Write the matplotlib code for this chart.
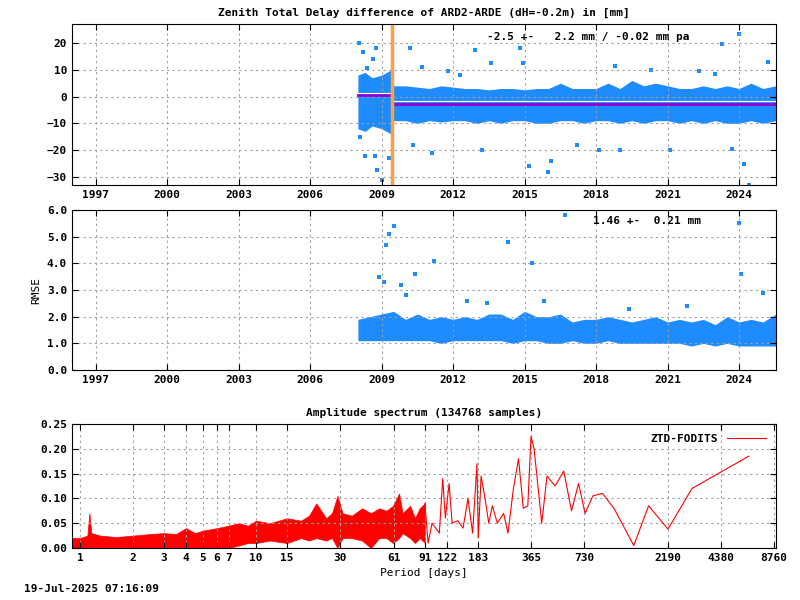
import numpy as np
import matplotlib.pyplot as plt

plt.rcParams['font.family'] = 'DejaVu Sans Mono'
plt.rcParams['font.size'] = 8
plt.rcParams['font.weight'] = 'bold'

BLUE = '#1E8CFF'

# --- ZTD difference cloud envelope (decimal year, upper, lower) ---
diff_t = [2008.0, 2008.3, 2008.6, 2009.0, 2009.4, 2009.5, 2010.0, 2010.5, 2011.0, 2011.5,
          2012.0, 2012.5, 2013.0, 2013.5, 2014.0, 2014.5, 2015.0, 2015.5, 2016.0, 2016.5,
          2017.0, 2017.5, 2018.0, 2018.5, 2019.0, 2019.5, 2020.0, 2020.5, 2021.0, 2021.5,
          2022.0, 2022.5, 2023.0, 2023.5, 2024.0, 2024.5, 2025.0, 2025.55]
diff_hi = [8, 9, 7, 8, 10, 4, 4, 3.5, 3, 4, 3.5, 3, 3, 2.5, 3, 3, 2.5, 3, 3, 5,
           3, 3, 3, 5, 3, 6, 4, 5, 4, 3, 3, 4, 3, 4, 3, 5, 3, 4]
diff_lo = [-12, -13, -11, -12, -14, -9, -9, -10, -9, -9.5, -9, -9, -10, -9, -10, -9, -9, -10, -10, -9,
           -9, -10, -9, -9, -10, -9, -10, -9, -9, -10, -9, -10, -9, -10, -10, -9, -10, -9]
# outliers (year, mm)
out_t = [2008.05, 2008.2, 2008.4, 2008.65, 2008.75, 2009.3, 2008.1, 2008.3, 2008.8, 2009.0,
         2008.7, 2010.2, 2010.7, 2011.8, 2012.9, 2013.6, 2014.8, 2014.95, 2016.0, 2016.1,
         2015.2, 2013.2, 2011.1, 2018.1, 2018.8, 2019.0, 2020.3, 2021.1, 2022.3, 2023.0,
         2023.3, 2024.0, 2024.2, 2024.4, 2025.2, 2023.7, 2012.3, 2017.2, 2010.3]
out_v = [20, 16.5, 10.5, 14, 18, -23, -15, -22, -27.5, -31, -22, 18, 11, 9.5, 17.5, 12.5, 18, 12.5, -28, -24,
         -26, -20, -21, -20, 11.5, -20, 10, -20, 9.5, 8.5, 19.5, 23.5, -25, -33, 13, -19.5, 8, -18, -18]
seg_t = [2008.0, 2009.45, 2009.45, 2025.55]
seg_mean = [0.5, 0.5, -2.7, -2.7]
break_year = 2009.45

# --- RMSE cloud envelope ---
rms_t = [2008.0, 2008.5, 2009.0, 2009.5, 2010.0, 2010.5, 2011.0, 2011.5, 2012.0, 2012.5,
         2013.0, 2013.5, 2014.0, 2014.5, 2015.0, 2015.5, 2016.0, 2016.5, 2017.0, 2017.5,
         2018.0, 2018.5, 2019.0, 2019.5, 2020.0, 2020.5, 2021.0, 2021.5, 2022.0, 2022.5,
         2023.0, 2023.5, 2024.0, 2024.5, 2025.0, 2025.55]
rms_hi = [1.9, 2.0, 2.1, 2.2, 1.9, 2.1, 1.9, 2.0, 1.9, 2.0, 1.9, 2.1, 2.1, 1.9, 2.2, 2.0, 2.0, 2.1, 1.8, 1.9,
          1.9, 2.0, 1.9, 1.8, 1.9, 2.0, 1.8, 1.9, 1.8, 1.9, 1.7, 2.0, 1.8, 1.9, 1.8, 2.1]
rms_lo = [1.1, 1.1, 1.1, 1.1, 1.1, 1.1, 1.1, 1.0, 1.1, 1.1, 1.1, 1.1, 1.1, 1.0, 1.1, 1.1, 1.0, 1.0, 1.1, 1.0,
          1.0, 1.1, 1.0, 1.0, 1.0, 1.0, 1.0, 1.0, 0.9, 1.0, 0.9, 1.0, 0.9, 0.9, 0.9, 0.9]
rout_t = [2009.2, 2009.3, 2009.5, 2009.8, 2010.4, 2011.2, 2014.3, 2015.3, 2016.7, 2024.0, 2024.1, 2025.0,
          2008.9, 2009.1, 2010.0, 2012.6, 2013.4, 2015.8, 2019.4, 2021.8]
rout_v = [4.7, 5.1, 5.4, 3.2, 3.6, 4.1, 4.8, 4.0, 5.8, 5.5, 3.6, 2.9,
          3.5, 3.3, 2.8, 2.6, 2.5, 2.6, 2.3, 2.4]

# --- Amplitude spectrum ---
noise_p = [0.9, 1.0, 1.1, 1.13, 1.16, 1.3, 1.6, 2, 2.5, 3, 3.5, 4, 4.5, 5, 6, 7, 8, 9, 10, 12, 15,
           18, 20, 22, 25, 27, 29, 31, 35, 40, 45, 50, 55, 60, 65, 68, 75, 80, 85, 91]
noise_hi = [0.02, 0.02, 0.025, 0.07, 0.03, 0.025, 0.022, 0.025, 0.028, 0.03, 0.028, 0.04, 0.03, 0.035,
            0.04, 0.045, 0.05, 0.045, 0.055, 0.05, 0.06, 0.055, 0.065, 0.09, 0.06, 0.07, 0.105, 0.07,
            0.065, 0.08, 0.07, 0.08, 0.075, 0.085, 0.11, 0.07, 0.085, 0.06, 0.08, 0.09]
noise_lo = [0, 0, 0, 0, 0, 0, 0, 0, 0, 0, 0, 0, 0, 0, 0, 0, 0.005, 0.01, 0.01, 0.015, 0.01, 0.02,
            0.015, 0.02, 0.015, 0.02, 0.0, 0.02, 0.02, 0.015, 0.0, 0.02, 0.02, 0.01, 0.02, 0.03, 0.02,
            0.01, 0.02, 0.01]
long_p = [91, 95, 100, 110, 115, 119, 125, 130, 140, 150, 160, 170, 180, 183, 190, 200, 210, 220, 235,
          255, 270, 290, 310, 330, 350, 365, 380, 420, 450, 500, 560, 620, 680, 740, 820, 930, 1080,
          1400, 1700, 2190, 3000, 6300]
long_a = [0.09, 0.01, 0.05, 0.03, 0.14, 0.06, 0.13, 0.05, 0.055, 0.04, 0.1, 0.03, 0.17, 0.02, 0.145,
          0.1, 0.05, 0.085, 0.05, 0.07, 0.03, 0.12, 0.18, 0.08, 0.085, 0.225, 0.2, 0.05, 0.145, 0.125,
          0.155, 0.075, 0.13, 0.07, 0.105, 0.11, 0.08, 0.005, 0.085, 0.038, 0.12, 0.185]
period_ticks = [1, 2, 3, 4, 5, 6, 7, 10, 15, 30, 61, 91, 122, 183, 365, 730, 2190, 4380, 8760]

year_ticks = list(range(1997, 2025, 3))
fig = plt.figure(figsize=(8, 6), dpi=100)

def style(ax):
    ax.grid(True, linestyle=(0, (2, 3)), color='#a0a0a0', linewidth=0.8)
    ax.tick_params(direction='in', length=4, top=True, right=True)

ax1 = fig.add_axes([0.09, 0.6917, 0.88, 0.268])
ax1.fill_between(diff_t, diff_lo, diff_hi, color=BLUE, linewidth=0)
ax1.scatter(out_t, out_v, s=6, marker='s', color=BLUE, linewidths=0)
ax1.plot(seg_t, seg_mean, color='#9400D3', linewidth=2)
ax1.plot(seg_t, [v + 0.9 for v in seg_mean], color='white', linewidth=0.8)
ax1.axvline(break_year, color='#FFA040', linewidth=2.5)
ax1.set_xlim(1996.0, 2025.55)
ax1.set_ylim(-33, 27)
ax1.set_yticks(range(-30, 21, 10))
ax1.set_xticks(year_ticks)
style(ax1)
ax1.set_title('Zenith Total Delay difference of ARD2-ARDE (dH=-0.2m) in [mm]', fontsize=8, fontweight='bold', pad=6)
ax1.text(0.59, 0.95, '-2.5 +-   2.2 mm / -0.02 mm pa', transform=ax1.transAxes, va='top')

ax2 = fig.add_axes([0.09, 0.3833, 0.88, 0.2667])
ax2.fill_between(rms_t, rms_lo, rms_hi, color=BLUE, linewidth=0)
ax2.scatter(rout_t, rout_v, s=6, marker='s', color=BLUE, linewidths=0)
ax2.set_xlim(1996.0, 2025.55)
ax2.set_ylim(0, 6)
ax2.set_yticks(np.arange(0, 6.1, 1.0))
ax2.set_yticklabels(['%.1f' % v for v in np.arange(0, 6.1, 1.0)])
ax2.set_xticks(year_ticks)
ax2.set_ylabel('RMSE')
style(ax2)
ax2.text(0.74, 0.96, '1.46 +-  0.21 mm', transform=ax2.transAxes, va='top')

ax3 = fig.add_axes([0.09, 0.0867, 0.88, 0.2067])
ax3.fill_between(noise_p, noise_lo, noise_hi, color='red', linewidth=0.5)
ax3.plot(long_p, long_a, color='red', linewidth=0.8, label='ZTD-FODITS')
ax3.set_xscale('log')
ax3.set_xlim(0.9, 9000)
ax3.set_ylim(0, 0.25)
ax3.set_yticks(np.arange(0, 0.26, 0.05))
ax3.set_yticklabels(['%.2f' % v for v in np.arange(0, 0.26, 0.05)])
ax3.set_xticks(period_ticks)
ax3.set_xticklabels([str(p) for p in period_ticks])
ax3.minorticks_off()
style(ax3)
ax3.set_title('Amplitude spectrum (134768 samples)', fontsize=8, fontweight='bold', pad=6)
ax3.set_xlabel('Period [days]')
leg = ax3.legend(loc='upper right', frameon=False, markerfirst=False, handlelength=3.5)

fig.text(0.03, 0.013, '19-Jul-2025 07:16:09')
fig.savefig('out.png', dpi=100)
